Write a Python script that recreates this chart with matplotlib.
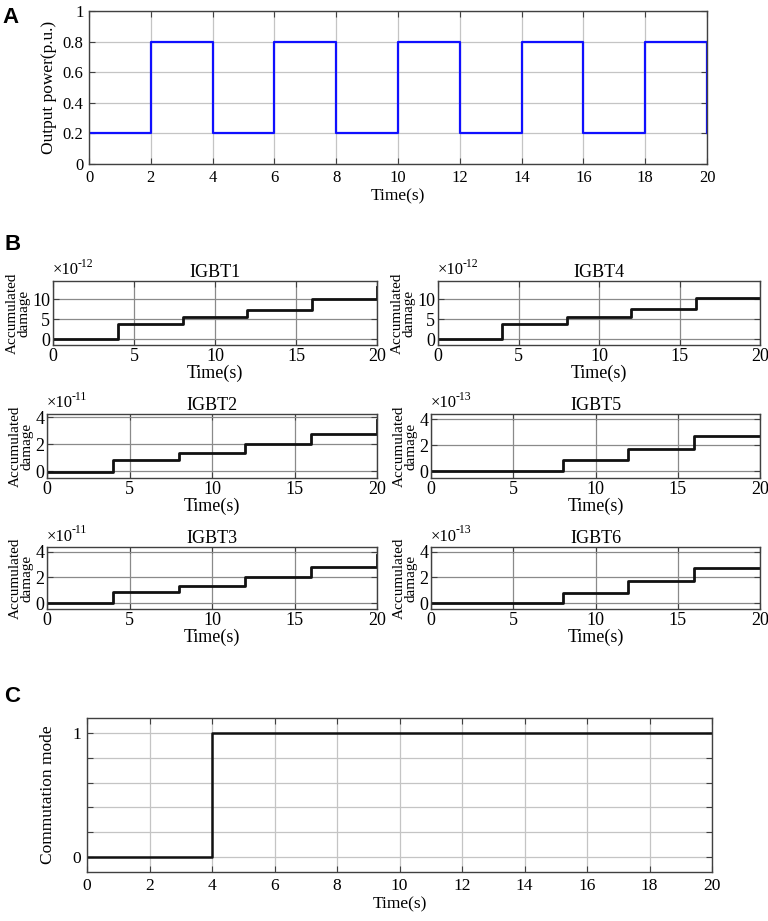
import matplotlib

matplotlib.use("Agg")
import matplotlib.pyplot as plt

plt.rcParams["font.family"] = ["Liberation Serif", "DejaVu Serif"]
plt.rcParams["mathtext.fontset"] = "stix"

W, H = 768, 921
SPINE = "#404040"
GRID_A = "#c4c4c4"
GRID_B = "#8a8a8a"

# --- Panel A: output power profile ---
power_time = [0, 2, 4, 6, 8, 10, 12, 14, 16, 18, 20]
power_pu = [0.2, 0.8, 0.2, 0.8, 0.2, 0.8, 0.2, 0.8, 0.2, 0.8, 0.2]

# --- Panel B: accumulated damage per IGBT (scaled values) ---
damage_time = [0, 4, 8, 12, 16, 20]
igbt1 = [0, 3.7, 5.5, 7.3, 10.0, 13.0]
igbt4 = [0, 3.8, 5.6, 7.5, 10.2, 10.2]
igbt2 = [-0.05, 0.8, 1.33, 2.0, 2.75, 3.8]
igbt5 = [0, 0, 0.85, 1.72, 2.72, 2.72]
igbt3 = [0, 0.9, 1.34, 2.0, 2.8, 3.75]
igbt6 = [0, 0, 0.82, 1.74, 2.7, 2.7]
b_names = ["IGBT1", "IGBT4", "IGBT2", "IGBT5", "IGBT3", "IGBT6"]
b_series = [igbt1, igbt4, igbt2, igbt5, igbt3, igbt6]
b_exponents = ["-12", "-12", "-11", "-13", "-11", "-13"]
b_yticks = [[0, 5, 10], [0, 5, 10], [0, 2, 4], [0, 2, 4], [0, 2, 4], [0, 2, 4]]
b_ylims = [(-1.5, 14.5), (-1.5, 14.5), (-0.5, 4.25), (-0.5, 4.4),
           (-0.45, 4.35), (-0.45, 4.35)]

# --- Panel C: commutation mode ---
mode_time = [0, 4, 20]
mode_value = [0, 1, 1]


def px_axes(fig, left, right, top, bottom):
    return fig.add_axes([left / W, (H - bottom) / H, (right - left) / W,
                         (bottom - top) / H])


def style(ax, grid_color, tick_size):
    for s in ax.spines.values():
        s.set_color(SPINE)
        s.set_linewidth(1.0)
    ax.tick_params(direction="in", length=4, width=0.8, colors=SPINE,
                   labelcolor="black", labelsize=tick_size, top=True, right=True,
                   pad=4)
    ax.grid(True, color=grid_color, linewidth=0.9)
    ax.set_axisbelow(True)


fig = plt.figure(figsize=(W / 100, H / 100), dpi=100)
fig.patch.set_facecolor("white")

# Panel A
ax = px_axes(fig, 89, 707, 11, 164)
ax.step(power_time, power_pu, where="post", color="#1010ff", lw=1.6)
ax.set_xlim(0, 20)
ax.set_ylim(0, 1)
ax.set_xticks(range(0, 21, 2))
ax.set_yticks([0, 0.2, 0.4, 0.6, 0.8, 1])
ax.set_yticklabels(["0", "0.2", "0.4", "0.6", "0.8", "1"])
style(ax, GRID_A, 12)
ax.set_xlabel("Time(s)", fontsize=12.5, labelpad=2)
ax.set_ylabel("Output power(p.u.)", fontsize=12.5, labelpad=4)
fig.text(2 / W, 1 - 7 / H, "A", family="Liberation Sans", fontweight="bold",
         fontsize=16, va="top", ha="left")

# Panel B
fig.text(4 / W, 1 - 234 / H, "B", family="Liberation Sans", fontweight="bold",
         fontsize=16, va="top", ha="left")
rows = [(281, 345), (414, 478), (547, 609)]
cols_first = [(53, 377), (438, 760)]
cols_rest = [(47, 377), (431, 760)]
for i, (name, vals, expo, yt, yl) in enumerate(
        zip(b_names, b_series, b_exponents, b_yticks, b_ylims)):
    r, c = divmod(i, 2)
    top, bottom = rows[r]
    left, right = (cols_first if r == 0 else cols_rest)[c]
    ax = px_axes(fig, left, right, top, bottom)
    ax.step(damage_time, vals, where="post", color="#111111", lw=2.0)
    ax.set_xlim(0, 20)
    ax.set_ylim(*yl)
    ax.set_xticks([0, 5, 10, 15, 20])
    ax.set_yticks(yt)
    style(ax, GRID_B, 13)
    ax.tick_params(axis="x", pad=2)
    ax.tick_params(axis="y", pad=2)
    ax.set_title(name, fontsize=13, pad=3)
    # multiplier: "x10" with a raised plain-hyphen exponent
    ax.text(0, 1.04, "\u00d710", transform=ax.transAxes,
            ha="left", va="bottom", fontsize=12)
    ax.annotate(expo, xy=(0, 1.04), xycoords="axes fraction",
                xytext=(18, 6), textcoords="offset points",
                ha="left", va="bottom", fontsize=8.5)
    ax.set_ylabel("Accumulated\ndamage", fontsize=11, labelpad=1,
                  linespacing=0.85)
    ax.set_xlabel("Time(s)", fontsize=13, labelpad=0)

# Panel C
fig.text(4 / W, 1 - 686 / H, "C", family="Liberation Sans", fontweight="bold",
         fontsize=16, va="top", ha="left")
ax = px_axes(fig, 87, 712, 718, 872)
ax.step(mode_time, mode_value, where="post", color="#111111", lw=1.8)
ax.set_xlim(0, 20)
ax.set_ylim(-0.12, 1.12)
ax.set_xticks(range(0, 21, 2))
ax.set_yticks([0, 0.2, 0.4, 0.6, 0.8, 1])
ax.set_yticklabels(["0", "", "", "", "", "1"])
style(ax, GRID_A, 12.5)
ax.set_xlabel("Time(s)", fontsize=12.5, labelpad=2)
ax.set_ylabel("Commutation mode", fontsize=12.5, labelpad=12)

fig.savefig("out.png", dpi=100, facecolor="white")
